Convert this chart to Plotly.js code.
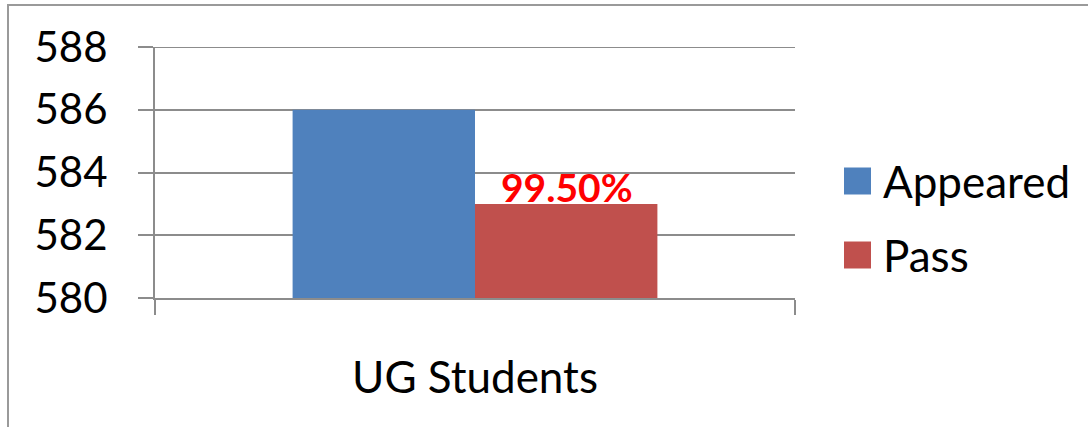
<!DOCTYPE html>
<html>
<head>
<meta charset="utf-8">
<script src="https://cdn.plot.ly/plotly-3.0.1.min.js"></script>
<style>
  html, body { margin: 0; padding: 0; background: #fff; }
  #chart { position: absolute; left: 0; top: 0; width: 1088px; height: 427px; }
  #frame { position: absolute; left: 7px; top: 4px; width: 1200px; height: 600px;
           border-left: 2px solid #9a9a9a; border-top: 2px solid #9a9a9a; pointer-events: none; }
</style>
</head>
<body>
<div id="chart"></div>
<div id="frame"></div>
<script>
// ---- data ----
var categories = ['UG Students'];
var seriesNames = ['Appeared', 'Pass'];
var appeared = [586];
var pass = [583];
var passLabels = ['99.50%'];
var yTicks = [580, 582, 584, 586, 588];
var colors = ['#4F81BD', '#C0504D'];

// ---- layout geometry ----
var W = 1088, H = 427;
var mL = 155, mR = 293, mT = 47, mB = 129;
var plotW = W - mL - mR, plotH = H - mT - mB;
function px(x) { return (x - mL) / plotW; }
function py(y) { return (H - mB - y) / plotH; }

var font = 'Lato, "Open Sans", sans-serif';

var traces = [
  { type: 'bar', x: categories, y: appeared, name: seriesNames[0],
    marker: { color: colors[0] }, showlegend: false, hoverinfo: 'none' },
  { type: 'bar', x: categories, y: pass, name: seriesNames[1],
    marker: { color: colors[1] }, showlegend: false, hoverinfo: 'none' }
];

var shapes = [], annotations = [];

// top gridline (Plotly drops the one on the range edge)
shapes.push({ type: 'line', xref: 'paper', yref: 'y', x0: 0, x1: 1,
  y0: yTicks[yTicks.length - 1], y1: yTicks[yTicks.length - 1],
  line: { color: '#8c8c8c', width: 2 } });

// data label above the Pass bar
categories.forEach(function (c, i) {
  annotations.push({ xref: 'x', yref: 'y', x: c, y: pass[i], xshift: 91.5,
    xanchor: 'center', yanchor: 'bottom', yshift: -8, showarrow: false,
    text: '<b>' + passLabels[i] + '</b>',
    font: { family: font, size: 39, color: '#FF0000' } });
});

// custom legend (large swatches like the reference)
var legendRows = [181, 255];
seriesNames.forEach(function (n, i) {
  var cy = legendRows[i];
  shapes.push({ type: 'rect', xref: 'paper', yref: 'paper',
    x0: px(844), x1: px(871), y0: py(cy + 13.5), y1: py(cy - 13.5),
    fillcolor: colors[i], line: { width: 0 } });
  annotations.push({ xref: 'paper', yref: 'paper', x: px(881), y: py(cy),
    xanchor: 'left', yanchor: 'middle', text: n, showarrow: false,
    font: { family: font, size: 44, color: '#000' } });
});

var layout = {
  width: W, height: H,
  margin: { l: mL, r: mR, t: mT, b: mB, pad: 0 },
  paper_bgcolor: '#fff', plot_bgcolor: '#fff',
  barmode: 'group', bargap: 0.43, bargroupgap: 0,
  showlegend: false,
  xaxis: {
    type: 'category', showgrid: false, zeroline: false,
    showline: true, linecolor: '#8c8c8c', linewidth: 2,
    ticks: 'outside', tickson: 'boundaries', ticklen: 15, tickwidth: 2, tickcolor: '#8c8c8c',
    tickfont: { family: font, size: 44, color: '#000' },
    ticklabelstandoff: 40
  },
  yaxis: {
    range: [580, 588], tickvals: yTicks, ticktext: yTicks.map(String),
    showgrid: true, gridcolor: '#8c8c8c', gridwidth: 2, zeroline: false,
    showline: true, linecolor: '#8c8c8c', linewidth: 2,
    ticks: 'outside', ticklen: 15, tickwidth: 2, tickcolor: '#8c8c8c',
    tickfont: { family: font, size: 42, color: '#000' },
    ticklabelstandoff: 22
  },
  shapes: shapes,
  annotations: annotations
};

Plotly.newPlot('chart', traces, layout, { staticPlot: true, displayModeBar: false });
</script>
</body>
</html>
